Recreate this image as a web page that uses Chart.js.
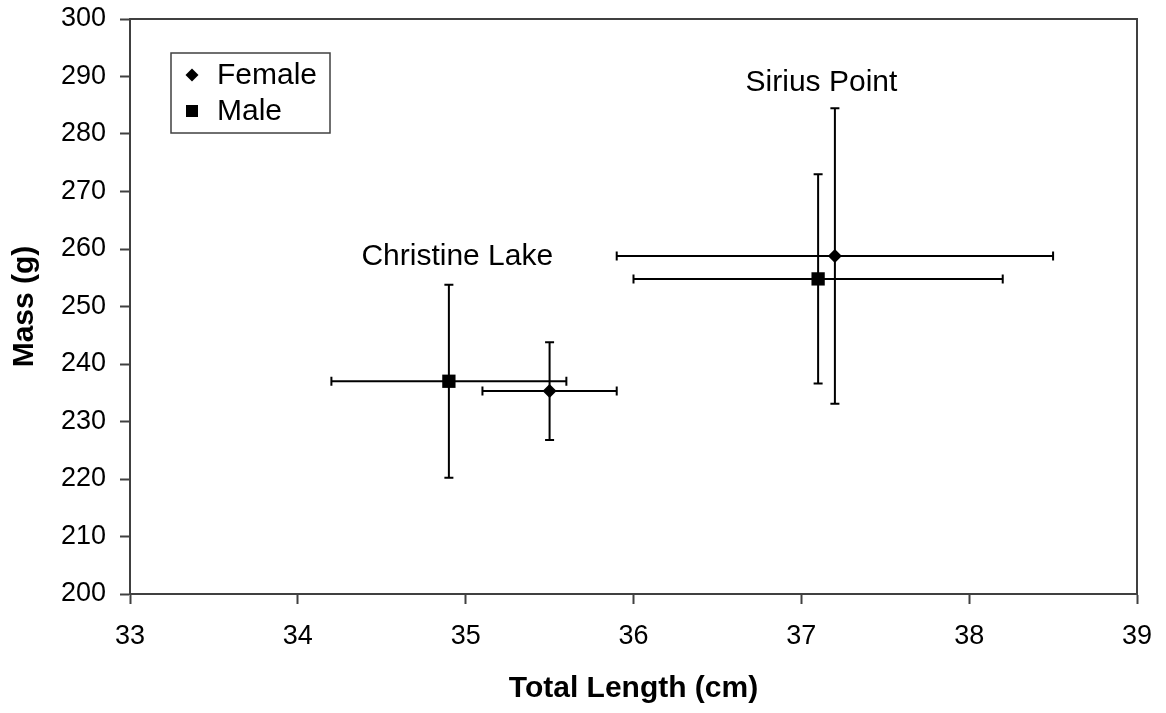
<!DOCTYPE html>
<html>
<head>
<script src="https://cdn.jsdelivr.net/npm/chart.js@4"></script>
<style>body{margin:0;background:#fff}</style>
</head>
<body>
<canvas id="canvas" width="1166" height="713"></canvas>
<script>
// means and +/- errors
const sites = ['Christine Lake', 'Sirius Point'];
const femaleLength = [35.5, 37.2];
const femaleLengthErr = [0.4, 1.3];
const femaleMass = [235.3, 258.8];
const femaleMassErr = [8.5, 25.7];
const maleLength = [34.9, 37.1];
const maleLengthErr = [0.7, 1.1];
const maleMass = [237.0, 254.8];
const maleMassErr = [16.8, 18.2];
const xTicks = [33, 34, 35, 36, 37, 38, 39];
const yTicks = [200, 210, 220, 230, 240, 250, 260, 270, 280, 290, 300];

const FONT = '"Liberation Sans", Arial, sans-serif';
const AXIS = '#404040';

const points = (xs, xe, ys, ye) =>
  xs.map((v, i) => ({ x: v, y: ys[i], xErr: xe[i], yErr: ye[i] }));

// where the site names sit, in data units (centre x, baseline y)
const siteLabelAt = [[34.95, 257.3], [37.12, 287.4]];

const errorBars = {
  id: 'errorBars',
  beforeDatasetsDraw(chart) {
    const { ctx, chartArea: a, scales: { x, y } } = chart;
    ctx.save();
    // box top and right
    ctx.strokeStyle = AXIS;
    ctx.lineWidth = 2;
    ctx.beginPath();
    ctx.moveTo(a.left, a.top);
    ctx.lineTo(a.right, a.top);
    ctx.lineTo(a.right, a.bottom);
    ctx.stroke();

    const cap = 4.5;
    ctx.strokeStyle = '#000';
    ctx.lineWidth = 2;
    chart.data.datasets.forEach(ds => {
      ds.data.forEach(p => {
        const px = x.getPixelForValue(p.x), py = y.getPixelForValue(p.y);
        const x0 = x.getPixelForValue(p.x - p.xErr), x1 = x.getPixelForValue(p.x + p.xErr);
        const y0 = y.getPixelForValue(p.y - p.yErr), y1 = y.getPixelForValue(p.y + p.yErr);
        ctx.beginPath();
        ctx.moveTo(x0, py); ctx.lineTo(x1, py);
        ctx.moveTo(x0, py - cap); ctx.lineTo(x0, py + cap);
        ctx.moveTo(x1, py - cap); ctx.lineTo(x1, py + cap);
        ctx.moveTo(px, y0); ctx.lineTo(px, y1);
        ctx.moveTo(px - cap, y0); ctx.lineTo(px + cap, y0);
        ctx.moveTo(px - cap, y1); ctx.lineTo(px + cap, y1);
        ctx.stroke();
      });
    });
    ctx.restore();
  },
  afterDraw(chart) {
    const { ctx, chartArea: a, scales: { x, y } } = chart;
    ctx.save();
    ctx.fillStyle = '#000';
    ctx.font = '30px ' + FONT;
    ctx.textAlign = 'center';
    ctx.textBaseline = 'alphabetic';
    sites.forEach((s, i) => {
      const [lx, ly] = siteLabelAt[i];
      ctx.fillText(s, x.getPixelForValue(lx), y.getPixelForValue(ly));
    });

    // legend box
    const bx = a.left + 41, by = a.top + 34, bw = 159, bh = 80;
    ctx.fillStyle = '#fff';
    ctx.fillRect(bx, by, bw, bh);
    ctx.strokeStyle = AXIS;
    ctx.lineWidth = 1.5;
    ctx.strokeRect(bx, by, bw, bh);
    ctx.textAlign = 'left';
    ctx.textBaseline = 'middle';
    chart.data.datasets.forEach((ds, i) => {
      const cy = by + 22 + i * 36, cx = bx + 21;
      ctx.fillStyle = '#000';
      ctx.beginPath();
      if (ds.pointStyle === 'rectRot') {
        const r = 6.5;
        ctx.moveTo(cx, cy - r); ctx.lineTo(cx + r, cy);
        ctx.lineTo(cx, cy + r); ctx.lineTo(cx - r, cy);
      } else {
        ctx.rect(cx - 6, cy - 6, 12, 12);
      }
      ctx.fill();
      ctx.fillText(ds.label, bx + 46, cy + 1);
    });
    ctx.restore();
  }
};

new Chart(document.getElementById('canvas'), {
  type: 'scatter',
  data: {
    datasets: [
      {
        label: 'Female',
        data: points(femaleLength, femaleLengthErr, femaleMass, femaleMassErr),
        pointStyle: 'rectRot',
        pointRadius: 7,
        backgroundColor: '#000',
        borderColor: '#000',
        borderWidth: 0
      },
      {
        label: 'Male',
        data: points(maleLength, maleLengthErr, maleMass, maleMassErr),
        pointStyle: 'rect',
        pointRadius: 9.4,
        backgroundColor: '#000',
        borderColor: '#000',
        borderWidth: 0
      }
    ]
  },
  options: {
    responsive: false,
    animation: false,
    layout: { padding: { left: 0, right: 29, top: 19, bottom: 0 } },
    plugins: { legend: { display: false }, tooltip: { enabled: false } },
    scales: {
      x: {
        type: 'linear',
        min: 33, max: 39,
        afterBuildTicks: s => { s.ticks = xTicks.map(v => ({ value: v })); },
        afterFit: s => { s.height = 119; s.paddingLeft = 0; s.paddingRight = 0; },
        grid: { drawOnChartArea: false, tickLength: 10, tickColor: AXIS, tickWidth: 2 },
        border: { color: AXIS, width: 2 },
        ticks: { color: '#000', font: { family: FONT, size: 27 }, padding: 16, maxRotation: 0 },
        title: {
          display: true, text: 'Total Length (cm)', color: '#000',
          font: { family: FONT, size: 30, weight: 'bold' }, padding: { top: 0, bottom: 6 }
        }
      },
      y: {
        type: 'linear',
        min: 200, max: 300,
        afterBuildTicks: s => { s.ticks = yTicks.map(v => ({ value: v })); },
        afterFit: s => { s.width = 130; s.paddingTop = 0; s.paddingBottom = 0; },
        grid: { drawOnChartArea: false, tickLength: 10, tickColor: AXIS, tickWidth: 2 },
        border: { color: AXIS, width: 2 },
        ticks: { color: '#000', font: { family: FONT, size: 27 }, padding: 14 },
        title: {
          display: true, text: 'Mass (g)', color: '#000',
          font: { family: FONT, size: 30, weight: 'bold' }, padding: { top: 7, bottom: 0 }
        }
      }
    }
  },
  plugins: [errorBars]
});
</script>
</body>
</html>
